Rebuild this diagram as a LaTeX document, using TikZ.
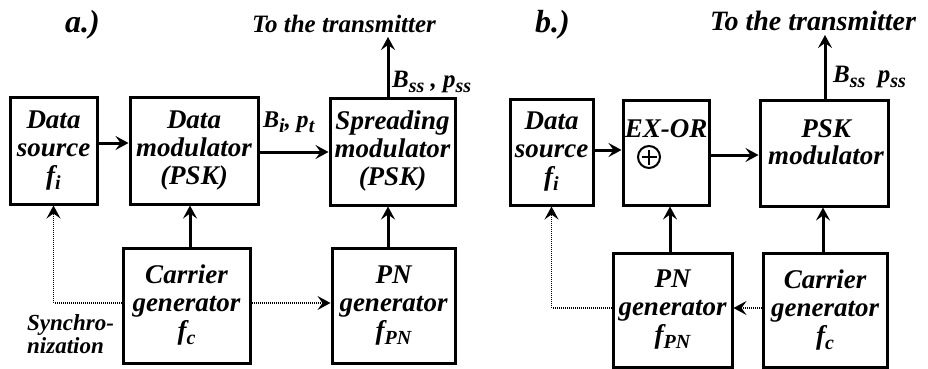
\documentclass[tikz,border=0pt]{standalone}
\usepackage{fontspec}
\setmainfont{Liberation Serif}
\usetikzlibrary{arrows.meta}
% lowered, fairly large subscript in the running font
\newcommand\subtxt[1]{\raisebox{-5pt}{\fontsize{20}{20}\selectfont #1}}

\begin{document}
\begin{tikzpicture}[x=1pt,y=-1pt,
  font=\fontsize{27}{28}\selectfont\bfseries\itshape,
  block/.style={draw,line width=3pt,inner sep=0pt,align=center},
  lbl/.style={inner sep=0pt},
  arr/.style={line width=3pt,-{Stealth[length=13pt,width=14pt,inset=5pt]}},
  sync/.style={line width=1.5pt,dash pattern=on 1pt off 1pt,
               -{Stealth[length=13pt,width=14pt,inset=5pt]}},
]
\useasboundingbox (0,0) rectangle (928,369);

% ---------------- a.) spreading after data modulation ----------------
\node[lbl,font=\fontsize{32}{32}\selectfont\bfseries\itshape,anchor=base west] (tagA) at (65,33) {a.)};

\node[block,minimum width=87pt,minimum height=107pt] (dsA) at (53.5,150.5)
  {Data\\source\\f\subtxt{i}};
\node[block,minimum width=128pt,minimum height=107pt] (dmA) at (194,150.5)
  {Data\\modulator\\(PSK)};
\node[block,minimum width=125pt,minimum height=107pt] (smA) at (392.5,151.5)
  {Spreading\\modulator\\(PSK)};
\node[block,minimum width=127pt,minimum height=115pt] (cgA) at (186.5,305.5)
  {Carrier\\generator\\f\subtxt{c}};
\node[block,minimum width=123pt,minimum height=115pt] (pnA) at (393.5,305.5)
  {PN\\generator\\f\subtxt{PN}};

\coordinate (outA) at (388,37);
\node[lbl,font=\fontsize{25}{25}\selectfont\bfseries\itshape,anchor=base] (txA) at (344,33) {To the transmitter};
\node[lbl,font=\fontsize{25}{25}\selectfont\bfseries\itshape,anchor=base west] (bssA) at (392,87)
  {B\subtxt{ss} , p\subtxt{ss}};
\node[lbl,font=\fontsize{24}{24}\selectfont\bfseries\itshape,anchor=base west] (biA) at (263,127)
  {B\subtxt{i}, p\subtxt{t}};

\draw[arr] (dsA.east |- 0,143) -- (dmA.west |- 0,143);
\draw[arr] (dmA.east |- 0,152) -- (smA.west |- 0,152);
\draw[arr] (smA.north -| outA) -- (outA);
\draw[arr] (190,0 |- cgA.north) -- (190,0 |- dmA.south);
\draw[arr] (388,0 |- pnA.north) -- (388,0 |- smA.south);
\draw[sync] (cgA.west |- 0,303) -| (dsA.south);
\draw[sync] (cgA.east |- 0,303) -- (pnA.west |- 0,303);

\node[lbl,font=\fontsize{23}{23}\selectfont\bfseries\itshape,align=left,anchor=west] (syncA) at (27,334)
  {Synchro-\\nization};

% ---------------- b.) spreading by EX-OR before modulation ----------------
\node[lbl,font=\fontsize{32}{32}\selectfont\bfseries\itshape,anchor=base west] (tagB) at (535,33) {b.)};

\node[block,minimum width=83pt,minimum height=106pt] (dsB) at (551.5,152)
  {Data\\source\\f\subtxt{i}};
\node[block,minimum width=86pt,minimum height=105pt] (xorB) at (666,152.5) {};
\node[lbl,anchor=base] (xorlbl) at (666,137) {EX-OR};
\node[draw,circle,line width=2pt,minimum size=22pt,inner sep=0pt] (xorsym) at (649,157) {};
\draw[line width=2pt,shorten <=4.5pt,shorten >=4.5pt] (xorsym.north) -- (xorsym.south);
\draw[line width=2pt,shorten <=4.5pt,shorten >=4.5pt] (xorsym.west) -- (xorsym.east);

\node[block,minimum width=128pt,minimum height=106pt] (pskB) at (824,153) {};
\node[lbl,align=center,font=\fontsize{27}{27}\selectfont\bfseries\itshape] (psklbl) at (826,142)
  {PSK\\modulator};
\node[block,minimum width=119pt,minimum height=114pt] (pnB) at (672.5,310)
  {PN\\generator\\f\subtxt{PN}};
\node[block,minimum width=124pt,minimum height=114pt] (cgB) at (825,310)
  {Carrier\\generator\\f\subtxt{c}};

\coordinate (outB) at (825,35);
\node[lbl,font=\fontsize{28}{28}\selectfont\bfseries\itshape,anchor=base] (txB) at (813,31) {To the transmitter};
\node[lbl,font=\fontsize{25}{25}\selectfont\bfseries\itshape,anchor=base west] (bssB) at (833,82)
  {B\subtxt{ss}\enspace p\subtxt{ss}};

\draw[arr] (dsB.east |- 0,150) -- (xorB.west |- 0,150);
\draw[arr] (xorB.east |- 0,155) -- (pskB.west |- 0,155);
\draw[arr] (pskB.north -| outB) -- (outB);
\draw[arr] (670,0 |- pnB.north) -- (670,0 |- xorB.south);
\draw[arr] (823,0 |- cgB.north) -- (823,0 |- pskB.south);
\draw[sync] (cgB.west |- 0,308) -- (pnB.east |- 0,308);
\draw[sync] (pnB.west |- 0,308) -| (dsB.south);
\end{tikzpicture}
\end{document}
